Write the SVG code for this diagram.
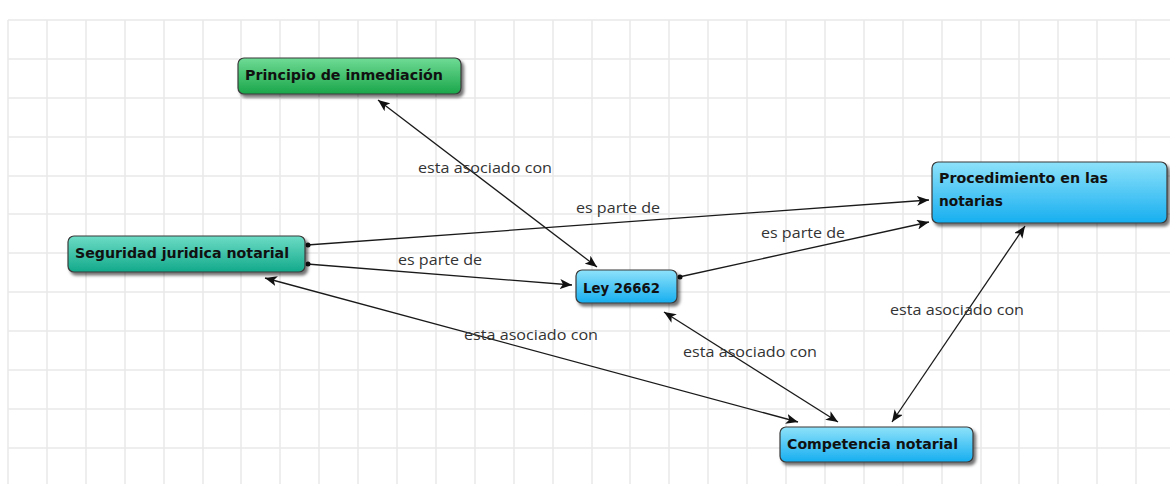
<svg xmlns="http://www.w3.org/2000/svg" width="1170" height="484" viewBox="0 0 1170 484">
<defs>
<style>
.grid line{stroke:#e8e8e8;stroke-width:1.5}
.node rect{stroke:#3a3a3a;stroke-width:1.2;filter:url(#sh)}
.node text{font-family:"DejaVu Sans","Liberation Sans",sans-serif;font-weight:bold;font-size:14.5px;fill:#111}
.conn line{stroke:#1a1a1a;stroke-width:1.3}
.lbl{font-family:"Open Sans","Liberation Sans",sans-serif;font-size:15px;fill:#333;text-anchor:middle}
.dot{fill:#111}
</style>
<linearGradient id="gGreen" x1="0" y1="0" x2="0" y2="1"><stop offset="0" stop-color="#6fdb95"/><stop offset="1" stop-color="#1aa64a"/></linearGradient>
<linearGradient id="gTeal" x1="0" y1="0" x2="0" y2="1"><stop offset="0" stop-color="#6ddcc6"/><stop offset="1" stop-color="#12a98a"/></linearGradient>
<linearGradient id="gBlue" x1="0" y1="0" x2="0" y2="1"><stop offset="0" stop-color="#8ee2fa"/><stop offset="1" stop-color="#16aef0"/></linearGradient>
<filter id="sh" x="-10%" y="-20%" width="125%" height="160%"><feDropShadow dx="2.5" dy="3" stdDeviation="1.5" flood-color="#000" flood-opacity="0.55"/></filter>
<marker id="ah" viewBox="0 0 12 10" refX="12" refY="5" markerWidth="12" markerHeight="10" markerUnits="userSpaceOnUse" orient="auto-start-reverse"><path d="M0,0 L12,5 L0,10 L3,5 Z" fill="#111"/></marker>
</defs>
<rect width="1170" height="484" fill="#ffffff"/>
<g class="grid">
<line x1="8" y1="20" x2="1170" y2="20"/><line x1="8" y1="59" x2="1170" y2="59"/><line x1="8" y1="98" x2="1170" y2="98"/><line x1="8" y1="137" x2="1170" y2="137"/><line x1="8" y1="176" x2="1170" y2="176"/><line x1="8" y1="214" x2="1170" y2="214"/><line x1="8" y1="253" x2="1170" y2="253"/><line x1="8" y1="292" x2="1170" y2="292"/><line x1="8" y1="331" x2="1170" y2="331"/><line x1="8" y1="370" x2="1170" y2="370"/><line x1="8" y1="409" x2="1170" y2="409"/><line x1="8" y1="448" x2="1170" y2="448"/>
<line x1="8" y1="20" x2="8" y2="484"/><line x1="47" y1="20" x2="47" y2="484"/><line x1="86" y1="20" x2="86" y2="484"/><line x1="125" y1="20" x2="125" y2="484"/><line x1="164" y1="20" x2="164" y2="484"/><line x1="203" y1="20" x2="203" y2="484"/><line x1="241" y1="20" x2="241" y2="484"/><line x1="280" y1="20" x2="280" y2="484"/><line x1="319" y1="20" x2="319" y2="484"/><line x1="358" y1="20" x2="358" y2="484"/><line x1="397" y1="20" x2="397" y2="484"/><line x1="436" y1="20" x2="436" y2="484"/><line x1="475" y1="20" x2="475" y2="484"/><line x1="514" y1="20" x2="514" y2="484"/><line x1="553" y1="20" x2="553" y2="484"/><line x1="592" y1="20" x2="592" y2="484"/><line x1="630" y1="20" x2="630" y2="484"/><line x1="669" y1="20" x2="669" y2="484"/><line x1="708" y1="20" x2="708" y2="484"/><line x1="747" y1="20" x2="747" y2="484"/><line x1="786" y1="20" x2="786" y2="484"/><line x1="825" y1="20" x2="825" y2="484"/><line x1="864" y1="20" x2="864" y2="484"/><line x1="903" y1="20" x2="903" y2="484"/><line x1="942" y1="20" x2="942" y2="484"/><line x1="981" y1="20" x2="981" y2="484"/><line x1="1019" y1="20" x2="1019" y2="484"/><line x1="1058" y1="20" x2="1058" y2="484"/><line x1="1097" y1="20" x2="1097" y2="484"/><line x1="1136" y1="20" x2="1136" y2="484"/>
</g>
<g id="connectors" class="conn">
<line x1="378" y1="100" x2="597" y2="267" marker-start="url(#ah)" marker-end="url(#ah)"/>
<line x1="307" y1="245" x2="929" y2="200" marker-end="url(#ah)"/>
<circle class="dot" cx="308" cy="245" r="2.5"/>
<line x1="307" y1="264" x2="572" y2="285" marker-end="url(#ah)"/>
<circle class="dot" cx="308" cy="264" r="2.5"/>
<line x1="679" y1="277" x2="929" y2="222" marker-end="url(#ah)"/>
<circle class="dot" cx="680" cy="277" r="2.5"/>
<line x1="265" y1="278" x2="798" y2="422" marker-start="url(#ah)" marker-end="url(#ah)"/>
<line x1="664" y1="312" x2="838" y2="422" marker-start="url(#ah)" marker-end="url(#ah)"/>
<line x1="1025" y1="226" x2="892" y2="422" marker-start="url(#ah)" marker-end="url(#ah)"/>
<text class="lbl" x="485" y="173" textLength="134" lengthAdjust="spacingAndGlyphs">esta asociado con</text>
<text class="lbl" x="618" y="213" textLength="84" lengthAdjust="spacingAndGlyphs">es parte de</text>
<text class="lbl" x="440" y="265" textLength="84" lengthAdjust="spacingAndGlyphs">es parte de</text>
<text class="lbl" x="803" y="238" textLength="84" lengthAdjust="spacingAndGlyphs">es parte de</text>
<text class="lbl" x="531" y="340" textLength="134" lengthAdjust="spacingAndGlyphs">esta asociado con</text>
<text class="lbl" x="750" y="357" textLength="134" lengthAdjust="spacingAndGlyphs">esta asociado con</text>
<text class="lbl" x="957" y="315" textLength="134" lengthAdjust="spacingAndGlyphs">esta asociado con</text>
</g>
<g id="n-principio" class="node">
<rect x="238" y="58" width="223" height="36" rx="6" fill="url(#gGreen)"/>
<text x="245" y="80" textLength="198" lengthAdjust="spacingAndGlyphs">Principio de inmediación</text>
</g>
<g id="n-seguridad" class="node">
<rect x="68" y="236" width="237" height="36" rx="6" fill="url(#gTeal)"/>
<text x="75" y="258" textLength="214" lengthAdjust="spacingAndGlyphs">Seguridad juridica notarial</text>
</g>
<g id="n-ley" class="node">
<rect x="576" y="270" width="101" height="33" rx="6" fill="url(#gBlue)"/>
<text x="583" y="293" textLength="77" lengthAdjust="spacingAndGlyphs">Ley 26662</text>
</g>
<g id="n-procedimiento" class="node">
<rect x="932" y="162" width="235" height="61" rx="6" fill="url(#gBlue)"/>
<text x="939" y="183" textLength="169" lengthAdjust="spacingAndGlyphs">Procedimiento en las</text>
<text x="939" y="206" textLength="64" lengthAdjust="spacingAndGlyphs">notarias</text>
</g>
<g id="n-competencia" class="node">
<rect x="780" y="427" width="193" height="35" rx="6" fill="url(#gBlue)"/>
<text x="787" y="449" textLength="171" lengthAdjust="spacingAndGlyphs">Competencia notarial</text>
</g>
</svg>
